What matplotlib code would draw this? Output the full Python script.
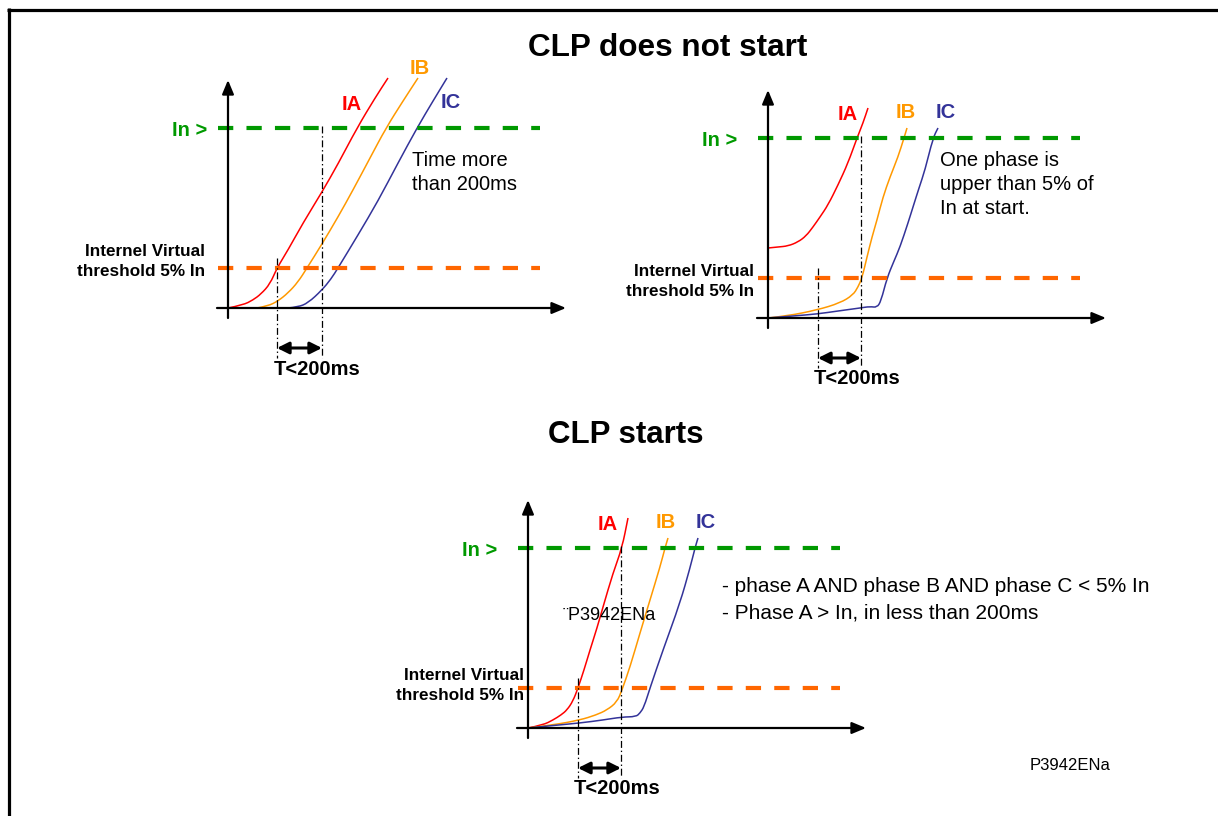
import matplotlib
matplotlib.use("Agg")
import matplotlib.pyplot as plt
from matplotlib.path import Path
from matplotlib.patches import PathPatch

plt.rcParams['font.family'] = ['Liberation Sans', 'DejaVu Sans']
plt.rcParams['lines.scale_dashes'] = False

W, H = 1218, 816

# threshold levels (schematic current units, same in all three sketches)
IN_LEVEL = 180
VIRTUAL_LEVEL = 40

# panel 1 : CLP does not start, slow rise on all phases
p1_ia_t = [0, 15, 25, 33, 42, 49, 60, 75, 94, 110, 129, 147, 160]
p1_ia_i = [0, 3, 8, 14, 24, 40, 58, 85, 116, 144, 180, 210, 230]
p1_ib_t = [29, 40, 50, 60, 70, 79, 94, 110, 125, 142, 158, 175, 190]
p1_ib_i = [0, 2, 7, 15, 26, 40, 64, 91, 118, 150, 180, 207, 230]
p1_ic_t = [60, 70, 80, 94, 103, 110, 130, 150, 170, 189, 205, 219]
p1_ic_i = [0, 1, 5, 18, 29, 40, 73, 107, 145, 180, 207, 230]

# panel 2 : CLP does not start, phase A already above 5% In
p2_ia_t = [0, 10, 20, 30, 38, 45, 52, 60, 70, 80, 89, 95, 100]
p2_ia_i = [70, 71, 72, 76, 82, 91, 101, 113, 133, 155, 180, 195, 210]
p2_ib_t = [0, 19, 49, 72, 85, 90, 94, 99, 104, 109, 115, 122, 130, 136, 139]
p2_ib_i = [0, 2, 8, 15, 23, 31, 40, 61, 81, 98, 121, 141, 161, 180, 190]
p2_ic_t = [0, 25, 49, 70, 92, 102, 109, 113, 119, 126, 132, 140, 145, 151, 157, 165, 170]
p2_ic_i = [0, 2, 4, 7, 10, 11.5, 10.5, 17, 40, 57, 71, 95, 111, 130, 148, 180, 190]

# panel 3 : CLP starts
p3_ia_t = [0, 15, 25, 33, 39, 45, 50, 56, 62, 69, 75, 85, 94, 100]
p3_ia_i = [0, 3, 8, 13, 18, 27, 40, 58, 78, 100, 121, 155, 180, 210]
p3_ib_t = [0, 25, 52, 68, 79, 89, 94, 102, 112, 122, 132, 137, 140]
p3_ib_i = [0, 3, 8, 13, 18, 26, 38, 61, 95, 128, 161, 180, 190]
p3_ic_t = [0, 25, 52, 75, 94, 108, 112, 116, 122, 135, 152, 162, 167, 170]
p3_ic_i = [0, 2.5, 5, 8, 11, 11.3, 15, 21, 40, 78, 125, 160, 180, 190]

RED, ORANGE, NAVY = '#FF0000', '#FF9900', '#333399'
GREEN, THR_ORANGE = '#009900', '#FF6600'

fig = plt.figure(figsize=(W / 100, H / 100), dpi=100)

bg = fig.add_axes([0, 0, 1, 1])
bg.set_xlim(0, W)
bg.set_ylim(H, 0)
bg.axis('off')
bg.plot([7, W], [9.5, 9.5], color='k', lw=2.3, solid_capstyle='butt')
bg.plot([8.5, 8.5], [8, H], color='k', lw=2.3, solid_capstyle='butt')
bg.text(668, 48, 'CLP does not start', fontsize=22.7, fontweight='bold', ha='center', va='center')
bg.text(626, 435, 'CLP starts', fontsize=22.5, fontweight='bold', ha='center', va='center')
bg.text(1030, 765, 'P3942ENa', fontsize=12, ha='left', va='center')


def smooth(ax, xs, ys, color):
    verts = [(xs[0], ys[0])]
    codes = [Path.MOVETO]
    for k in range(1, len(xs) - 1):
        verts.append((xs[k], ys[k]))
        verts.append(((xs[k] + xs[k + 1]) / 2, (ys[k] + ys[k + 1]) / 2))
        codes += [Path.CURVE3, Path.CURVE3]
    verts.append((xs[-1], ys[-1]))
    codes.append(Path.LINETO)
    ax.add_patch(PathPatch(Path(verts, codes), fill=False, edgecolor=color, lw=1.1))


def panel(ox, oy, t1, t2, in_dx, virt_dx, virt_y, labels):
    # axes box in pixels, local coordinates have origin at the axis crossing
    x0, x1, y0, y1 = ox - 160, ox + 360, oy - 250, oy + 90
    ax = fig.add_axes([x0 / W, 1 - y1 / H, (x1 - x0) / W, (y1 - y0) / H])
    ax.set_xlim(x0 - ox, x1 - ox)
    ax.set_ylim(oy - y1, oy - y0)
    ax.axis('off')

    arrow = dict(arrowstyle='-|>,head_length=0.6,head_width=0.25', color='k',
                 lw=1.6, mutation_scale=14, shrinkA=0, shrinkB=0)
    ax.annotate('', xy=(338, 0), xytext=(-11, 0), arrowprops=arrow)
    ax.annotate('', xy=(0, 228), xytext=(0, -10), arrowprops=arrow)

    ax.plot([-10, 312], [IN_LEVEL, IN_LEVEL], color=GREEN, lw=3, dashes=(11, 9.5))
    ax.plot([-10, 312], [VIRTUAL_LEVEL, VIRTUAL_LEVEL], color=THR_ORANGE, lw=3, dashes=(11, 9.5))

    ax.text(in_dx, 177, 'In >', color=GREEN, fontsize=14.5, fontweight='bold', ha='right', va='center')
    ax.text(virt_dx, virt_y, 'Internel Virtual', fontsize=12.3, fontweight='bold', ha='right', va='center')
    ax.text(virt_dx, virt_y - 19, 'threshold 5% In', fontsize=12.3, fontweight='bold', ha='right', va='center')

    dd = (0, (5, 2, 1, 2))
    ax.plot([t1, t1], [VIRTUAL_LEVEL + 10, -50], color='k', lw=0.9, linestyle=dd)
    ax.plot([t2, t2], [IN_LEVEL + 2, -50], color='k', lw=0.9, linestyle=dd)
    ax.annotate('', xy=(t2, -40), xytext=(t1, -40),
                arrowprops=dict(arrowstyle='<|-|>,head_length=0.5,head_width=0.25', color='k',
                                lw=2.2, mutation_scale=14, shrinkA=0, shrinkB=0))
    ax.text((t1 + t2) / 2 + 18, -61, 'T<200ms', fontsize=14.5, fontweight='bold', ha='center', va='center')

    for (lx, ly, name), col in zip(labels, [RED, ORANGE, NAVY]):
        ax.text(lx, ly, name, color=col, fontsize=14.5, fontweight='bold', ha='center', va='center')
    return ax


ax1 = panel(228, 308, 49, 94, -21, -23, 56,
            [(124, 203, 'IA'), (192, 240, 'IB'), (223, 206, 'IC')])
smooth(ax1, p1_ia_t, p1_ia_i, RED)
smooth(ax1, p1_ib_t, p1_ib_i, ORANGE)
smooth(ax1, p1_ic_t, p1_ic_i, NAVY)
ax1.text(184, 148, 'Time more', fontsize=14.5, ha='left', va='center')
ax1.text(184, 123, 'than 200ms', fontsize=14.5, ha='left', va='center')

ax2 = panel(768, 318, 50, 93, -31, -14, 46,
            [(80, 203, 'IA'), (138, 206, 'IB'), (178, 205, 'IC')])
smooth(ax2, p2_ia_t, p2_ia_i, RED)
smooth(ax2, p2_ib_t, p2_ib_i, ORANGE)
smooth(ax2, p2_ic_t, p2_ic_i, NAVY)
for k, line in enumerate(['One phase is', 'upper than 5% of', 'In at start.']):
    ax2.text(172, 158 - 24.5 * k, line, fontsize=14.5, ha='left', va='center')

ax3 = panel(528, 728, 50, 93, -31, -4, 52,
            [(80, 203, 'IA'), (138, 206, 'IB'), (178, 205, 'IC')])
smooth(ax3, p3_ia_t, p3_ia_i, RED)
smooth(ax3, p3_ib_t, p3_ib_i, ORANGE)
smooth(ax3, p3_ic_t, p3_ic_i, NAVY)
ax3.text(35, 112, '¨P3942ENa', fontsize=13, ha='left', va='center')
ax3.text(194, 141, '- phase A AND phase B AND phase C < 5% In', fontsize=15, ha='left', va='center')
ax3.text(194, 115, '- Phase A > In, in less than 200ms', fontsize=15, ha='left', va='center')

fig.savefig('out.png', dpi=100)
